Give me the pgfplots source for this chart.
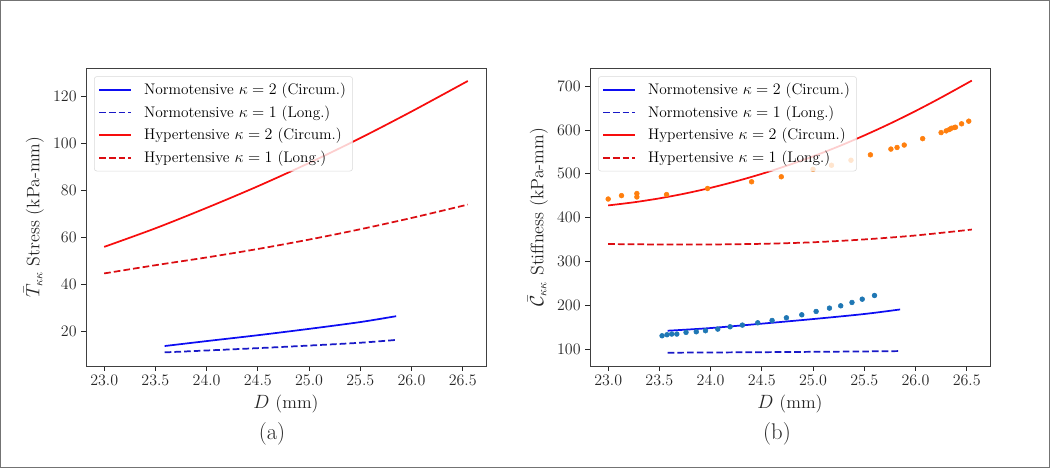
\documentclass[border=0pt]{standalone}
\usepackage{pgfplots}
\pgfplotsset{compat=1.18}
\definecolor{tabblue}{HTML}{1F77B4}
\definecolor{taborange}{HTML}{FF7F0E}
\definecolor{ncol}{rgb}{0.05,0.05,0.95}
\definecolor{nlcol}{rgb}{0.1,0.1,0.78}
\definecolor{hcol}{rgb}{0.97,0.05,0.05}
\definecolor{hlcol}{rgb}{0.86,0.05,0.07}
\pgfplotsset{
  myaxis/.style={
    scale only axis, width=300pt, height=223.1pt,
    xmin=22.8225, xmax=26.7275,
    xtick={23,23.5,...,26.5},
    xticklabel style={/pgf/number format/.cd,fixed,fixed zerofill,precision=1},
    tick align=outside, tick pos=left,
    major tick length=3.5pt,
    every tick/.style={black!85, line width=0.6pt},
    axis line style={black!75, line width=0.7pt},
    tick label style={font=\fontsize{12.8}{14}\selectfont, black!85},
    label style={font=\fontsize{13.5}{15}\selectfont, black!85},
    xlabel={$D$ (mm)},
    legend cell align=left,
    legend style={at={(0.02,0.974)}, anchor=north west,
      draw=black!15, rounded corners=2pt, fill=white, fill opacity=0.8, text opacity=1,
      font=\fontsize{11.5}{13}\selectfont, row sep=2.8pt, inner xsep=3pt, inner ysep=3pt,
      /tikz/every odd column/.append style={column sep=7pt}},
    legend image code/.code={\draw[##1] (0pt,0pt) -- (24pt,0pt);},
  },
  dashline/.style={dash pattern=on 5pt off 2.3pt},
}
\begin{document}
\begin{tikzpicture}
\draw[black!55, line width=1pt] (0.5pt,0.5pt) rectangle (787pt,350.5pt);
% ---------- (a) ----------
\begin{axis}[myaxis, at={(64.5pt,76.5pt)}, anchor=south west,
  ymin=5.3, ymax=131.9, ytick={20,40,...,120},
  ylabel={$\bar{T}_{\kappa\kappa}$ Stress (kPa-mm)}]
\addplot[ncol, line width=1.3pt, smooth] coordinates {
 (23.59,13.8) (24.0,15.9) (24.5,18.4) (25.0,21.1) (25.5,24.0) (25.85,26.5)};
\addlegendentry{Normotensive $\kappa=2$ (Circum.)}
\addplot[nlcol, line width=1.3pt, dashline, smooth] coordinates {
 (23.59,11.1) (24.0,11.9) (24.5,12.9) (25.0,14.0) (25.5,15.2) (25.85,16.4)};
\addlegendentry{Normotensive $\kappa=1$ (Long.)}
\addplot[hcol, line width=1.3pt, smooth] coordinates {
 (23.0,56.0) (23.5,63.9) (24.0,72.6) (24.5,81.8) (25.0,91.7) (25.5,102.3) (26.0,113.6) (26.55,126.6)};
\addlegendentry{Hypertensive $\kappa=2$ (Circum.)}
\addplot[hlcol, line width=1.3pt, dashline, smooth] coordinates {
 (23.0,44.7) (23.5,48.2) (24.0,51.5) (24.5,55.1) (25.0,59.1) (25.5,63.5) (26.0,68.3) (26.55,74.0)};
\addlegendentry{Hypertensive $\kappa=1$ (Long.)}
\end{axis}
% ---------- (b) ----------
\begin{axis}[myaxis, at={(442.5pt,76.5pt)}, anchor=south west,
  ymin=62, ymax=740, ytick={100,200,...,700},
  ylabel={$\bar{\mathcal{C}}_{\kappa\kappa}$ Stiffness (kPa-mm)}]
\addplot[only marks, mark=*, mark size=1.8pt, tabblue, forget plot] coordinates {
 (23.526,130.9) (23.574,133.2) (23.62,134.8) (23.67,134.8) (23.76,138.6) (23.86,140.0)
 (23.95,142.4) (24.07,146.1) (24.19,151.4) (24.31,155.2) (24.46,160.5) (24.60,165.8)
 (24.74,171.9) (24.89,178.7) (25.03,186.3) (25.16,193.9) (25.27,199.2) (25.38,206.8)
 (25.48,214.3) (25.60,222.7)};
\addplot[only marks, mark=*, mark size=1.8pt, taborange, forget plot] coordinates {
 (23.00,442.6) (23.13,450.4) (23.28,455.1) (23.28,447.3) (23.57,452.7) (23.97,466.6)
 (24.40,481.9) (24.69,493.3) (25.00,510.3) (25.18,519.6) (25.37,531.0) (25.56,543.3)
 (25.76,556.4) (25.82,560.1) (25.89,565.6) (26.07,580.2) (26.25,594.0) (26.30,597.9)
 (26.33,600.9) (26.35,603.9) (26.38,605.5) (26.39,606.2) (26.45,614.0) (26.52,620.0)};
\addplot[ncol, line width=1.3pt, smooth] coordinates {
 (23.58,142.4) (24.0,148.5) (24.5,158.5) (25.0,169.0) (25.5,180.5) (25.85,190.9)};
\addlegendentry{Normotensive $\kappa=2$ (Circum.)}
\addplot[nlcol, line width=1.3pt, dashline, smooth] coordinates {
 (23.58,92.3) (24.0,92.8) (24.5,93.5) (25.0,94.3) (25.5,95.2) (25.85,96.0)};
\addlegendentry{Normotensive $\kappa=1$ (Long.)}
\addplot[hcol, line width=1.3pt, smooth] coordinates {
 (23.0,428.0) (23.25,435.1) (23.5,444.1) (23.75,455.1) (24.0,468.1) (24.25,483.1)
 (24.5,500.0) (24.75,519.0) (25.0,539.8) (25.25,562.6) (25.5,587.5) (25.75,614.3)
 (26.0,643.1) (26.25,673.8) (26.55,712.5)};
\addlegendentry{Hypertensive $\kappa=2$ (Circum.)}
\addplot[hlcol, line width=1.3pt, dashline, smooth] coordinates {
 (23.0,340) (23.5,339) (24.0,339) (24.5,340.5) (25.0,344) (25.5,350.5) (26.0,359.5) (26.55,373)};
\addlegendentry{Hypertensive $\kappa=1$ (Long.)}
\end{axis}
\node[font=\fontsize{17}{19}\selectfont, black!85] at (204pt,25.5pt) {(a)};
\node[font=\fontsize{17}{19}\selectfont, black!85] at (582.75pt,25.5pt) {(b)};
\end{tikzpicture}
\end{document}
